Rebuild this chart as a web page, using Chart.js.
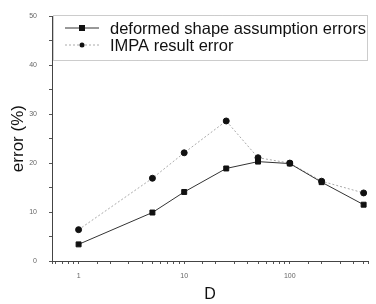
<!DOCTYPE html>
<html>
<head>
<meta charset="utf-8">
<script src="https://cdn.jsdelivr.net/npm/chart.js@4"></script>
<style>
  html, body { margin: 0; padding: 0; background: #fff; }
  #wrap { width: 376px; height: 304px; }
</style>
</head>
<body>
<div id="wrap"><canvas id="errChart"></canvas></div>
<script>
// values
const dValues = [1, 5, 10, 25, 50, 100, 200, 500];
const shapeErrors = [3.4, 9.9, 14.1, 18.9, 20.3, 19.9, 16.1, 11.5];
const impaErrors = [6.4, 16.9, 22.1, 28.6, 21.1, 20.0, 16.3, 13.9];
const yTicks = [0, 5, 10, 15, 20, 25, 30, 35, 40, 45, 50];
const xLabelTicks = [1, 10, 100];
const seriesNames = ['deformed shape assumption errors', 'IMPA result error'];

// legend drawn inside the plot like the original figure
const boxLegend = {
    id: 'boxLegend',
    afterDraw(chart) {
        const ctx = chart.ctx;
        const area = chart.chartArea;
        ctx.save();
        ctx.strokeStyle = '#999';
        ctx.lineWidth = 1;
        ctx.setLineDash([1, 1]);
        ctx.strokeRect(area.left + 1.5, 15.5, area.right - area.left - 2, 45);
        ctx.setLineDash([]);
        ctx.font = '16.5px "Liberation Sans", Arial, sans-serif';
        ctx.textBaseline = 'middle';
        chart.data.datasets.forEach((ds, i) => {
            const y = 28 + i * 17;
            ctx.strokeStyle = ds.borderColor;
            ctx.setLineDash(ds.borderDash || []);
            ctx.beginPath();
            ctx.moveTo(65, y);
            ctx.lineTo(99, y);
            ctx.stroke();
            ctx.setLineDash([]);
            ctx.fillStyle = '#111';
            if (ds.pointStyle === 'rect') {
                ctx.fillRect(79, y - 3, 6, 6);
            } else {
                ctx.beginPath();
                ctx.arc(82, y, 2.5, 0, Math.PI * 2);
                ctx.fill();
            }
            ctx.fillStyle = '#111';
            ctx.fillText(ds.label, 110, y + 1);
        });
        ctx.restore();
    }
};

const ctx = document.getElementById('errChart').getContext('2d');
new Chart(ctx, {
    type: 'line',
    data: {
        labels: dValues,
        datasets: [{
            label: seriesNames[0],
            data: dValues.map((d, i) => ({ x: d, y: shapeErrors[i] })),
            borderColor: '#333',
            borderWidth: 1,
            pointStyle: 'rect',
            pointRadius: 3.5,
            pointBackgroundColor: '#111',
            pointBorderColor: '#111'
        }, {
            label: seriesNames[1],
            data: dValues.map((d, i) => ({ x: d, y: impaErrors[i] })),
            borderColor: '#aaa',
            borderWidth: 1,
            borderDash: [2, 2],
            pointStyle: 'circle',
            pointRadius: 3,
            pointBackgroundColor: '#111',
            pointBorderColor: '#111'
        }]
    },
    options: {
        responsive: true,
        maintainAspectRatio: false,
        animation: false,
        layout: { padding: { top: 13, right: 1, left: 0, bottom: 0 } },
        plugins: {
            legend: { display: false },
            tooltip: { enabled: false }
        },
        scales: {
            x: {
                type: 'logarithmic',
                min: 0.56,
                max: 550,
                afterFit: function (scale) { scale.height = 43; },
                grid: { drawOnChartArea: false, tickLength: 3, color: '#555' },
                border: { color: '#444', width: 1 },
                ticks: {
                    autoSkip: false,
                    maxRotation: 0,
                    padding: 8,
                    color: '#666',
                    font: { size: 7, family: 'Liberation Sans' },
                    callback: function (value) {
                        return xLabelTicks.includes(value) ? String(value) : '';
                    }
                },
                title: {
                    display: true,
                    text: 'D',
                    color: '#111',
                    font: { size: 16, family: 'Liberation Sans' },
                    padding: { top: 4, bottom: 0 }
                }
            },
            y: {
                min: 0,
                max: 50,
                afterFit: function (scale) { scale.width = 52; },
                afterBuildTicks: function (scale) {
                    scale.ticks = yTicks.map(v => ({ value: v }));
                },
                grid: { drawOnChartArea: false, tickLength: 3, color: '#555' },
                border: { color: '#444', width: 1 },
                ticks: {
                    padding: 12,
                    color: '#666',
                    font: { size: 7, family: 'Liberation Sans' },
                    callback: function (value) {
                        return value % 10 === 0 ? String(value) : '';
                    }
                },
                title: {
                    display: true,
                    text: 'error (%)',
                    color: '#111',
                    font: { size: 17, family: 'Liberation Sans' },
                    padding: { top: 8, bottom: 2 }
                }
            }
        }
    },
    plugins: [boxLegend]
});
</script>
</body>
</html>
